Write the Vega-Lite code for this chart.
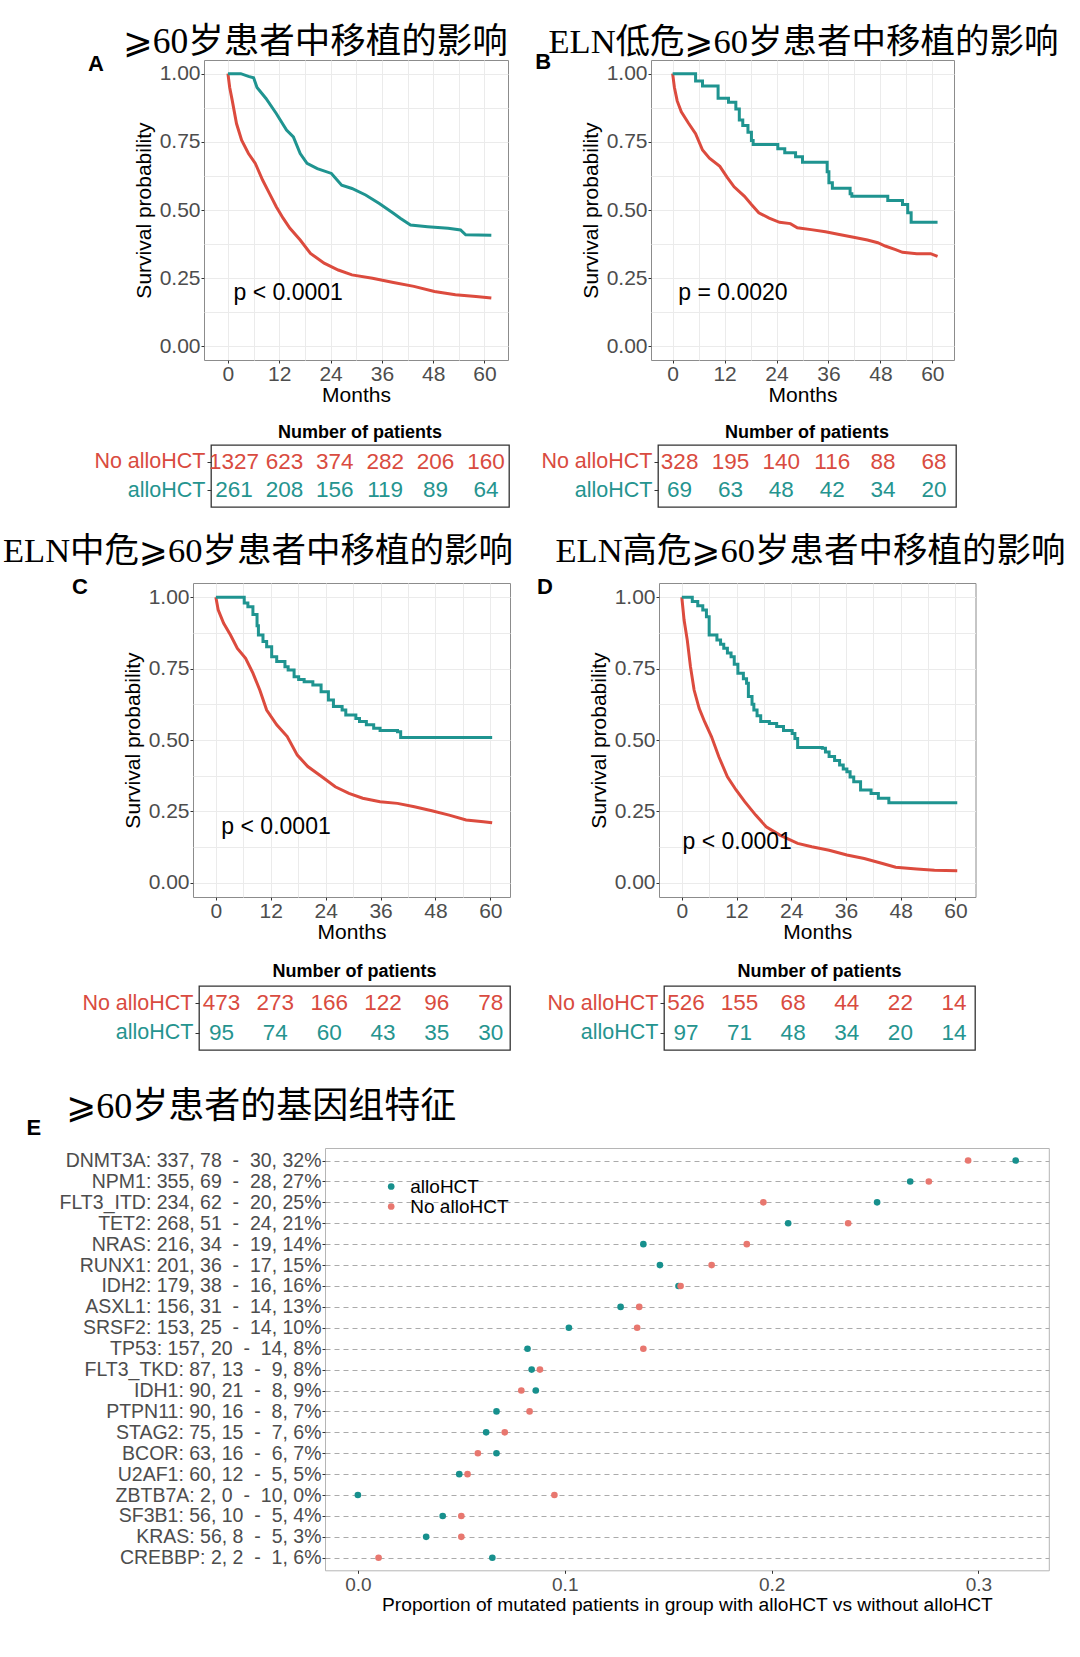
{
  "$schema": "https://vega.github.io/schema/vega-lite/v6.json",
  "background": "white",
  "padding": {"left": 2, "top": 24, "right": 0, "bottom": 0},
  "config": {
    "view": {"stroke": null},
    "font": "Liberation Sans",
    "axis": {"labelFont": "Liberation Sans", "titleFont": "Liberation Sans", "labelColor": "#4D4D4D", "titleColor": "#000000", "titleFontWeight": "normal", "tickColor": "#333333", "domain": false, "labelOverlap": false, "labelFlush": false, "gridColor": "#EBEBEB"},
    "title": {"font": "'Liberation Serif', 'DejaVu Sans', 'Noto Sans CJK SC'", "fontWeight": "normal", "color": "#000000", "anchor": "start", "frame": "group", "baseline": "middle"}
  },
  "datasets": {
    "A_no": [{"t":0,"s":1},{"t":0.4,"s":0.95},{"t":1.0,"s":0.902},{"t":2.0,"s":0.817},{"t":3.2,"s":0.756},{"t":4.8,"s":0.707},{"t":6.4,"s":0.671},{"t":8.1,"s":0.61},{"t":9.7,"s":0.561},{"t":11.3,"s":0.512},{"t":12.9,"s":0.47},{"t":14.5,"s":0.433},{"t":16.9,"s":0.39},{"t":19.3,"s":0.341},{"t":22.5,"s":0.305},{"t":25.8,"s":0.28},{"t":29.0,"s":0.262},{"t":33.8,"s":0.25},{"t":38.7,"s":0.234},{"t":43.5,"s":0.22},{"t":48.3,"s":0.201},{"t":53.2,"s":0.189},{"t":58.0,"s":0.183},{"t":61.6,"s":0.177}],
    "A_allo": [{"t":0,"s":1},{"t":3.0,"s":1.0},{"t":4.8,"s":0.99},{"t":6.0,"s":0.985},{"t":6.8,"s":0.949},{"t":8.9,"s":0.909},{"t":11.3,"s":0.854},{"t":13.7,"s":0.793},{"t":15.3,"s":0.768},{"t":16.9,"s":0.707},{"t":18.5,"s":0.671},{"t":20.9,"s":0.652},{"t":24.2,"s":0.634},{"t":26.6,"s":0.591},{"t":29.0,"s":0.579},{"t":32.2,"s":0.555},{"t":35.4,"s":0.524},{"t":38.7,"s":0.488},{"t":40.3,"s":0.47},{"t":42.7,"s":0.445},{"t":46.7,"s":0.439},{"t":51.5,"s":0.433},{"t":54.4,"s":0.427},{"t":55.6,"s":0.409},{"t":61.6,"s":0.407}],
    "B_no": [{"t":0,"s":1},{"t":0.4,"s":0.95},{"t":1.05,"s":0.9},{"t":2.0,"s":0.86},{"t":3.6,"s":0.82},{"t":5.3,"s":0.78},{"t":6.9,"s":0.72},{"t":8.5,"s":0.69},{"t":10.9,"s":0.66},{"t":12.6,"s":0.62},{"t":14.2,"s":0.585},{"t":16.6,"s":0.55},{"t":18.2,"s":0.52},{"t":19.9,"s":0.49},{"t":22.3,"s":0.47},{"t":24.7,"s":0.455},{"t":27.2,"s":0.45},{"t":28.8,"s":0.435},{"t":32.0,"s":0.428},{"t":35.3,"s":0.42},{"t":38.5,"s":0.41},{"t":41.8,"s":0.4},{"t":45.0,"s":0.39},{"t":47.4,"s":0.38},{"t":49.1,"s":0.368},{"t":51.5,"s":0.355},{"t":53.1,"s":0.345},{"t":56.4,"s":0.34},{"t":59.6,"s":0.34},{"t":61.2,"s":0.33}],
    "B_allo": [{"t":0,"s":1},{"t":5.3,"s":0.973},{"t":6.9,"s":0.955},{"t":10.5,"s":0.91},{"t":12.9,"s":0.895},{"t":14.6,"s":0.87},{"t":15.4,"s":0.83},{"t":16.2,"s":0.81},{"t":17.4,"s":0.785},{"t":18.2,"s":0.755},{"t":18.6,"s":0.74},{"t":24.3,"s":0.725},{"t":25.9,"s":0.71},{"t":28.4,"s":0.695},{"t":30.0,"s":0.675},{"t":35.7,"s":0.64},{"t":36.1,"s":0.6},{"t":36.9,"s":0.58},{"t":41.0,"s":0.56},{"t":41.4,"s":0.55},{"t":49.7,"s":0.535},{"t":53.1,"s":0.52},{"t":54.3,"s":0.49},{"t":55.1,"s":0.455},{"t":61.2,"s":0.455}],
    "C_no": [{"t":0,"s":1},{"t":0.5,"s":0.956},{"t":1.7,"s":0.909},{"t":3.2,"s":0.868},{"t":4.7,"s":0.821},{"t":6.5,"s":0.786},{"t":8.1,"s":0.734},{"t":9.6,"s":0.675},{"t":11.1,"s":0.605},{"t":13.3,"s":0.553},{"t":15.6,"s":0.512},{"t":17.8,"s":0.447},{"t":20.1,"s":0.407},{"t":23.1,"s":0.372},{"t":26.1,"s":0.336},{"t":29.1,"s":0.313},{"t":32.1,"s":0.296},{"t":35.9,"s":0.284},{"t":39.7,"s":0.278},{"t":43.4,"s":0.266},{"t":47.2,"s":0.252},{"t":51.0,"s":0.237},{"t":54.7,"s":0.22},{"t":58.5,"s":0.214},{"t":60.4,"s":0.21}],
    "C_allo": [{"t":0,"s":1},{"t":6.2,"s":0.98},{"t":7.0,"s":0.967},{"t":8.1,"s":0.94},{"t":9.0,"s":0.9},{"t":9.3,"s":0.868},{"t":10.3,"s":0.845},{"t":11.1,"s":0.827},{"t":12.2,"s":0.792},{"t":13.3,"s":0.775},{"t":15.1,"s":0.757},{"t":15.8,"s":0.745},{"t":17.1,"s":0.722},{"t":18.1,"s":0.712},{"t":19.3,"s":0.704},{"t":21.2,"s":0.693},{"t":23.0,"s":0.669},{"t":24.6,"s":0.64},{"t":25.7,"s":0.617},{"t":27.6,"s":0.605},{"t":28.4,"s":0.588},{"t":30.6,"s":0.575},{"t":31.4,"s":0.565},{"t":32.9,"s":0.553},{"t":34.5,"s":0.541},{"t":35.9,"s":0.533},{"t":39.7,"s":0.529},{"t":40.4,"s":0.509},{"t":60.4,"s":0.509}],
    "D_no": [{"t":0,"s":1},{"t":0.5,"s":0.92},{"t":1.2,"s":0.85},{"t":1.9,"s":0.757},{"t":2.7,"s":0.675},{"t":3.8,"s":0.611},{"t":5.0,"s":0.564},{"t":6.5,"s":0.512},{"t":8.1,"s":0.442},{"t":10.0,"s":0.371},{"t":11.9,"s":0.325},{"t":13.8,"s":0.284},{"t":16.2,"s":0.237},{"t":18.5,"s":0.196},{"t":21.5,"s":0.167},{"t":25.4,"s":0.138},{"t":28.5,"s":0.126},{"t":32.3,"s":0.114},{"t":36.2,"s":0.097},{"t":40.0,"s":0.085},{"t":43.8,"s":0.068},{"t":46.9,"s":0.054},{"t":51.5,"s":0.048},{"t":55.4,"s":0.044},{"t":60.4,"s":0.042}],
    "D_allo": [{"t":0,"s":1},{"t":2.3,"s":0.985},{"t":3.5,"s":0.97},{"t":4.6,"s":0.955},{"t":5.4,"s":0.932},{"t":6.0,"s":0.868},{"t":7.7,"s":0.85},{"t":8.5,"s":0.835},{"t":9.2,"s":0.821},{"t":10.0,"s":0.805},{"t":10.8,"s":0.792},{"t":11.5,"s":0.765},{"t":12.3,"s":0.734},{"t":13.5,"s":0.715},{"t":14.2,"s":0.699},{"t":14.6,"s":0.652},{"t":15.4,"s":0.625},{"t":15.8,"s":0.605},{"t":16.5,"s":0.585},{"t":17.3,"s":0.565},{"t":19.2,"s":0.558},{"t":20.8,"s":0.547},{"t":22.3,"s":0.533},{"t":24.2,"s":0.523},{"t":24.8,"s":0.505},{"t":25.4,"s":0.474},{"t":30.8,"s":0.471},{"t":31.5,"s":0.458},{"t":32.3,"s":0.442},{"t":33.5,"s":0.428},{"t":34.6,"s":0.412},{"t":35.4,"s":0.398},{"t":36.2,"s":0.389},{"t":36.9,"s":0.37},{"t":37.7,"s":0.354},{"t":39.2,"s":0.325},{"t":41.5,"s":0.313},{"t":43.1,"s":0.296},{"t":45.4,"s":0.28},{"t":60.4,"s":0.28}],
    "risk": [
      {"p":"A","g":"No alloHCT","t":0,"n":1327},{"p":"A","g":"No alloHCT","t":12,"n":623},{"p":"A","g":"No alloHCT","t":24,"n":374},{"p":"A","g":"No alloHCT","t":36,"n":282},{"p":"A","g":"No alloHCT","t":48,"n":206},{"p":"A","g":"No alloHCT","t":60,"n":160},
      {"p":"A","g":"alloHCT","t":0,"n":261},{"p":"A","g":"alloHCT","t":12,"n":208},{"p":"A","g":"alloHCT","t":24,"n":156},{"p":"A","g":"alloHCT","t":36,"n":119},{"p":"A","g":"alloHCT","t":48,"n":89},{"p":"A","g":"alloHCT","t":60,"n":64},
      {"p":"B","g":"No alloHCT","t":0,"n":328},{"p":"B","g":"No alloHCT","t":12,"n":195},{"p":"B","g":"No alloHCT","t":24,"n":140},{"p":"B","g":"No alloHCT","t":36,"n":116},{"p":"B","g":"No alloHCT","t":48,"n":88},{"p":"B","g":"No alloHCT","t":60,"n":68},
      {"p":"B","g":"alloHCT","t":0,"n":69},{"p":"B","g":"alloHCT","t":12,"n":63},{"p":"B","g":"alloHCT","t":24,"n":48},{"p":"B","g":"alloHCT","t":36,"n":42},{"p":"B","g":"alloHCT","t":48,"n":34},{"p":"B","g":"alloHCT","t":60,"n":20},
      {"p":"C","g":"No alloHCT","t":0,"n":473},{"p":"C","g":"No alloHCT","t":12,"n":273},{"p":"C","g":"No alloHCT","t":24,"n":166},{"p":"C","g":"No alloHCT","t":36,"n":122},{"p":"C","g":"No alloHCT","t":48,"n":96},{"p":"C","g":"No alloHCT","t":60,"n":78},
      {"p":"C","g":"alloHCT","t":0,"n":95},{"p":"C","g":"alloHCT","t":12,"n":74},{"p":"C","g":"alloHCT","t":24,"n":60},{"p":"C","g":"alloHCT","t":36,"n":43},{"p":"C","g":"alloHCT","t":48,"n":35},{"p":"C","g":"alloHCT","t":60,"n":30},
      {"p":"D","g":"No alloHCT","t":0,"n":526},{"p":"D","g":"No alloHCT","t":12,"n":155},{"p":"D","g":"No alloHCT","t":24,"n":68},{"p":"D","g":"No alloHCT","t":36,"n":44},{"p":"D","g":"No alloHCT","t":48,"n":22},{"p":"D","g":"No alloHCT","t":60,"n":14},
      {"p":"D","g":"alloHCT","t":0,"n":97},{"p":"D","g":"alloHCT","t":12,"n":71},{"p":"D","g":"alloHCT","t":24,"n":48},{"p":"D","g":"alloHCT","t":36,"n":34},{"p":"D","g":"alloHCT","t":48,"n":20},{"p":"D","g":"alloHCT","t":60,"n":14}
    ],
    "mut": [
      {"gene":"DNMT3A: 337, 78\u00a0\u00a0-\u00a0\u00a030, 32%","group":"alloHCT","prop":0.318},{"gene":"DNMT3A: 337, 78\u00a0\u00a0-\u00a0\u00a030, 32%","group":"No alloHCT","prop":0.295},
      {"gene":"NPM1: 355, 69\u00a0\u00a0-\u00a0\u00a028, 27%","group":"alloHCT","prop":0.267},{"gene":"NPM1: 355, 69\u00a0\u00a0-\u00a0\u00a028, 27%","group":"No alloHCT","prop":0.276},
      {"gene":"FLT3_ITD: 234, 62\u00a0\u00a0-\u00a0\u00a020, 25%","group":"alloHCT","prop":0.251},{"gene":"FLT3_ITD: 234, 62\u00a0\u00a0-\u00a0\u00a020, 25%","group":"No alloHCT","prop":0.196},
      {"gene":"TET2: 268, 51\u00a0\u00a0-\u00a0\u00a024, 21%","group":"alloHCT","prop":0.208},{"gene":"TET2: 268, 51\u00a0\u00a0-\u00a0\u00a024, 21%","group":"No alloHCT","prop":0.237},
      {"gene":"NRAS: 216, 34\u00a0\u00a0-\u00a0\u00a019, 14%","group":"alloHCT","prop":0.138},{"gene":"NRAS: 216, 34\u00a0\u00a0-\u00a0\u00a019, 14%","group":"No alloHCT","prop":0.188},
      {"gene":"RUNX1: 201, 36\u00a0\u00a0-\u00a0\u00a017, 15%","group":"alloHCT","prop":0.146},{"gene":"RUNX1: 201, 36\u00a0\u00a0-\u00a0\u00a017, 15%","group":"No alloHCT","prop":0.171},
      {"gene":"IDH2: 179, 38\u00a0\u00a0-\u00a0\u00a016, 16%","group":"alloHCT","prop":0.155},{"gene":"IDH2: 179, 38\u00a0\u00a0-\u00a0\u00a016, 16%","group":"No alloHCT","prop":0.156},
      {"gene":"ASXL1: 156, 31\u00a0\u00a0-\u00a0\u00a014, 13%","group":"alloHCT","prop":0.127},{"gene":"ASXL1: 156, 31\u00a0\u00a0-\u00a0\u00a014, 13%","group":"No alloHCT","prop":0.136},
      {"gene":"SRSF2: 153, 25\u00a0\u00a0-\u00a0\u00a014, 10%","group":"alloHCT","prop":0.102},{"gene":"SRSF2: 153, 25\u00a0\u00a0-\u00a0\u00a014, 10%","group":"No alloHCT","prop":0.135},
      {"gene":"TP53: 157, 20\u00a0\u00a0-\u00a0\u00a014, 8%","group":"alloHCT","prop":0.082},{"gene":"TP53: 157, 20\u00a0\u00a0-\u00a0\u00a014, 8%","group":"No alloHCT","prop":0.138},
      {"gene":"FLT3_TKD: 87, 13\u00a0\u00a0-\u00a0\u00a09, 8%","group":"alloHCT","prop":0.084},{"gene":"FLT3_TKD: 87, 13\u00a0\u00a0-\u00a0\u00a09, 8%","group":"No alloHCT","prop":0.088},
      {"gene":"IDH1: 90, 21\u00a0\u00a0-\u00a0\u00a08, 9%","group":"alloHCT","prop":0.086},{"gene":"IDH1: 90, 21\u00a0\u00a0-\u00a0\u00a08, 9%","group":"No alloHCT","prop":0.079},
      {"gene":"PTPN11: 90, 16\u00a0\u00a0-\u00a0\u00a08, 7%","group":"alloHCT","prop":0.067},{"gene":"PTPN11: 90, 16\u00a0\u00a0-\u00a0\u00a08, 7%","group":"No alloHCT","prop":0.083},
      {"gene":"STAG2: 75, 15\u00a0\u00a0-\u00a0\u00a07, 6%","group":"alloHCT","prop":0.062},{"gene":"STAG2: 75, 15\u00a0\u00a0-\u00a0\u00a07, 6%","group":"No alloHCT","prop":0.071},
      {"gene":"BCOR: 63, 16\u00a0\u00a0-\u00a0\u00a06, 7%","group":"alloHCT","prop":0.067},{"gene":"BCOR: 63, 16\u00a0\u00a0-\u00a0\u00a06, 7%","group":"No alloHCT","prop":0.058},
      {"gene":"U2AF1: 60, 12\u00a0\u00a0-\u00a0\u00a05, 5%","group":"alloHCT","prop":0.049},{"gene":"U2AF1: 60, 12\u00a0\u00a0-\u00a0\u00a05, 5%","group":"No alloHCT","prop":0.053},
      {"gene":"ZBTB7A: 2, 0\u00a0\u00a0-\u00a0\u00a010, 0%","group":"alloHCT","prop":0.0},{"gene":"ZBTB7A: 2, 0\u00a0\u00a0-\u00a0\u00a010, 0%","group":"No alloHCT","prop":0.095},
      {"gene":"SF3B1: 56, 10\u00a0\u00a0-\u00a0\u00a05, 4%","group":"alloHCT","prop":0.041},{"gene":"SF3B1: 56, 10\u00a0\u00a0-\u00a0\u00a05, 4%","group":"No alloHCT","prop":0.05},
      {"gene":"KRAS: 56, 8\u00a0\u00a0-\u00a0\u00a05, 3%","group":"alloHCT","prop":0.033},{"gene":"KRAS: 56, 8\u00a0\u00a0-\u00a0\u00a05, 3%","group":"No alloHCT","prop":0.05},
      {"gene":"CREBBP: 2, 2\u00a0\u00a0-\u00a0\u00a01, 6%","group":"alloHCT","prop":0.065},{"gene":"CREBBP: 2, 2\u00a0\u00a0-\u00a0\u00a01, 6%","group":"No alloHCT","prop":0.01}
    ]
  },
  "bounds": "flush",
  "spacing": 0,
  "resolve": {"scale": {"color": "independent"}, "legend": {"color": "independent"}},
  "vconcat": [
    {
      "bounds": "flush",
      "spacing": 0,
      "hconcat": [
        {"width": 11, "height": 1, "data": {"values": []}, "mark": "point"},
        {
          "width": 304, "height": 300,
          "view": {"stroke": "#8C8C8C"},
          "title": {"text": "⩾60岁患者中移植的影响", "dx": -81, "offset": -7.3, "fontSize": 35.5},
          "encoding": {
            "x": {"field": "t", "type": "quantitative", "scale": {"domain": [-5.6, 65.5], "nice": false, "zero": false},
              "axis": {"values": [0,6,12,18,24,30,36,42,48,54,60], "labelExpr": "datum.value % 12 == 0 ? datum.label : ''", "tickOpacity": {"condition": {"test": "datum.value % 12 != 0", "value": 0}, "value": 1}, "title": "Months", "grid": true, "tickSize": 3, "labelPadding": 0, "labelFontSize": 21, "titleFontSize": 21, "titlePadding": 0}},
            "y": {"field": "s", "type": "quantitative", "scale": {"domain": [-0.05, 1.05], "nice": false, "zero": false},
              "axis": {"values": [0,0.125,0.25,0.375,0.5,0.625,0.75,0.875,1], "format": ".2f", "labelExpr": "datum.value*4 == round(datum.value*4) ? datum.label : ''", "tickOpacity": {"condition": {"test": "datum.value*4 != round(datum.value*4)", "value": 0}, "value": 1}, "title": "Survival probability", "grid": true, "tickSize": 3, "labelPadding": 1, "labelFontSize": 21, "titleFontSize": 21, "titlePadding": 5}}
          },
          "layer": [
            {"data": {"name": "A_no"}, "mark": {"type": "line", "color": "#DC4B3E", "strokeWidth": 3}},
            {"data": {"name": "A_allo"}, "mark": {"type": "line", "color": "#1F9490", "strokeWidth": 3}},
            {"data": {"values": [{"t": -30.9, "s": 1.034, "lab": "A"}]}, "mark": {"type": "text", "fontSize": 22, "fontWeight": "bold", "color": "#000000"}, "encoding": {"text": {"field": "lab"}}},
            {"data": {"values": [{"t": 1.3, "s": 0.196, "lab": "p < 0.0001"}]}, "mark": {"type": "text", "align": "left", "fontSize": 23, "color": "#000000"}, "encoding": {"text": {"field": "lab"}}}
          ]
        },
        {"width": 143, "height": 1, "data": {"values": []}, "mark": "point"},
        {
          "width": 303, "height": 300,
          "view": {"stroke": "#8C8C8C"},
          "title": {"text": "ELN低危⩾60岁患者中移植的影响", "dx": -102.5, "offset": -9.5, "fontSize": 34.5},
          "encoding": {
            "x": {"field": "t", "type": "quantitative", "scale": {"domain": [-5.0, 65.0], "nice": false, "zero": false},
              "axis": {"values": [0,6,12,18,24,30,36,42,48,54,60], "labelExpr": "datum.value % 12 == 0 ? datum.label : ''", "tickOpacity": {"condition": {"test": "datum.value % 12 != 0", "value": 0}, "value": 1}, "title": "Months", "grid": true, "tickSize": 3, "labelPadding": 0, "labelFontSize": 21, "titleFontSize": 21, "titlePadding": 0}},
            "y": {"field": "s", "type": "quantitative", "scale": {"domain": [-0.05, 1.05], "nice": false, "zero": false},
              "axis": {"values": [0,0.125,0.25,0.375,0.5,0.625,0.75,0.875,1], "format": ".2f", "labelExpr": "datum.value*4 == round(datum.value*4) ? datum.label : ''", "tickOpacity": {"condition": {"test": "datum.value*4 != round(datum.value*4)", "value": 0}, "value": 1}, "title": "Survival probability", "grid": true, "tickSize": 3, "labelPadding": 1, "labelFontSize": 21, "titleFontSize": 21, "titlePadding": 5}}
          },
          "layer": [
            {"data": {"name": "B_no"}, "mark": {"type": "line", "color": "#DC4B3E", "strokeWidth": 3}},
            {"data": {"name": "B_allo"}, "mark": {"type": "line", "interpolate": "step-after", "color": "#1F9490", "strokeWidth": 3}},
            {"data": {"values": [{"t": -29.9, "s": 1.042, "lab": "B"}]}, "mark": {"type": "text", "fontSize": 22, "fontWeight": "bold", "color": "#000000"}, "encoding": {"text": {"field": "lab"}}},
            {"data": {"values": [{"t": 1.3, "s": 0.195, "lab": "p = 0.0020"}]}, "mark": {"type": "text", "align": "left", "fontSize": 23, "color": "#000000"}, "encoding": {"text": {"field": "lab"}}}
          ]
        }
      ]
    },
    {"width": 1, "height": 385, "data": {"values": []}, "mark": "point"},
    {
      "bounds": "flush",
      "spacing": 0,
      "hconcat": [
        {"width": 17.4, "height": 1, "data": {"values": []}, "mark": "point"},
        {
          "width": 298, "height": 62,
          "view": {"stroke": "#333333", "strokeWidth": 1.3},
          "title": {"text": "Number of patients", "anchor": "middle", "offset": 3.5, "font": "Liberation Sans", "fontWeight": "bold", "fontSize": 18},
          "data": {"name": "risk"},
          "transform": [{"filter": "datum.p == 'A'"}],
          "mark": {"type": "text", "fontSize": 22.5},
          "encoding": {
            "x": {"field": "t", "type": "quantitative", "scale": {"domain": [-5.5, 65.5], "nice": false, "zero": false}, "axis": null},
            "y": {"field": "g", "type": "nominal", "scale": {"type": "point", "domain": ["No alloHCT", "alloHCT"], "padding": 0.6}, "axis": {"title": null, "grid": false, "tickSize": 4, "labelPadding": 2, "labelFontSize": 21.5, "labelColor": {"condition": {"test": "datum.value == 'No alloHCT'", "value": "#D94B40"}, "value": "#25948F"}}},
            "text": {"field": "n", "type": "nominal"},
            "color": {"condition": {"test": "datum.g == 'No alloHCT'", "value": "#D94B40"}, "value": "#25948F"}
          }
        },
        {"width": 148.2, "height": 1, "data": {"values": []}, "mark": "point"},
        {
          "width": 298, "height": 62,
          "view": {"stroke": "#333333", "strokeWidth": 1.3},
          "title": {"text": "Number of patients", "anchor": "middle", "offset": 3.5, "font": "Liberation Sans", "fontWeight": "bold", "fontSize": 18},
          "data": {"name": "risk"},
          "transform": [{"filter": "datum.p == 'B'"}],
          "mark": {"type": "text", "fontSize": 22.5},
          "encoding": {
            "x": {"field": "t", "type": "quantitative", "scale": {"domain": [-5.1, 65.2], "nice": false, "zero": false}, "axis": null},
            "y": {"field": "g", "type": "nominal", "scale": {"type": "point", "domain": ["No alloHCT", "alloHCT"], "padding": 0.6}, "axis": {"title": null, "grid": false, "tickSize": 4, "labelPadding": 2, "labelFontSize": 21.5, "labelColor": {"condition": {"test": "datum.value == 'No alloHCT'", "value": "#D94B40"}, "value": "#25948F"}}},
            "text": {"field": "n", "type": "nominal"},
            "color": {"condition": {"test": "datum.g == 'No alloHCT'", "value": "#D94B40"}, "value": "#25948F"}
          }
        }
      ]
    },
    {"width": 1, "height": 138, "data": {"values": []}, "mark": "point"},
    {
      "bounds": "flush",
      "spacing": 0,
      "hconcat": [
        {
          "width": 317, "height": 314,
          "view": {"stroke": "#8C8C8C"},
          "title": {"text": "ELN中危⩾60岁患者中移植的影响", "dx": -190, "offset": 6.6, "fontSize": 34.5},
          "encoding": {
            "x": {"field": "t", "type": "quantitative", "scale": {"domain": [-5.0, 64.3], "nice": false, "zero": false},
              "axis": {"values": [0,6,12,18,24,30,36,42,48,54,60], "labelExpr": "datum.value % 12 == 0 ? datum.label : ''", "tickOpacity": {"condition": {"test": "datum.value % 12 != 0", "value": 0}, "value": 1}, "title": "Months", "grid": true, "tickSize": 3, "labelPadding": 0, "labelFontSize": 21, "titleFontSize": 21, "titlePadding": 0}},
            "y": {"field": "s", "type": "quantitative", "scale": {"domain": [-0.05, 1.05], "nice": false, "zero": false},
              "axis": {"values": [0,0.125,0.25,0.375,0.5,0.625,0.75,0.875,1], "format": ".2f", "labelExpr": "datum.value*4 == round(datum.value*4) ? datum.label : ''", "tickOpacity": {"condition": {"test": "datum.value*4 != round(datum.value*4)", "value": 0}, "value": 1}, "title": "Survival probability", "grid": true, "tickSize": 3, "labelPadding": 1, "labelFontSize": 21, "titleFontSize": 21, "titlePadding": 5}}
          },
          "layer": [
            {"data": {"name": "C_no"}, "mark": {"type": "line", "color": "#DC4B3E", "strokeWidth": 3}},
            {"data": {"name": "C_allo"}, "mark": {"type": "line", "interpolate": "step-after", "color": "#1F9490", "strokeWidth": 3}},
            {"data": {"values": [{"t": -29.7, "s": 1.036, "lab": "C"}]}, "mark": {"type": "text", "fontSize": 22, "fontWeight": "bold", "color": "#000000"}, "encoding": {"text": {"field": "lab"}}},
            {"data": {"values": [{"t": 1.2, "s": 0.196, "lab": "p < 0.0001"}]}, "mark": {"type": "text", "align": "left", "fontSize": 23, "color": "#000000"}, "encoding": {"text": {"field": "lab"}}}
          ]
        },
        {"width": 149, "height": 1, "data": {"values": []}, "mark": "point"},
        {
          "width": 316.5, "height": 314,
          "view": {"stroke": "#8C8C8C"},
          "title": {"text": "ELN高危⩾60岁患者中移植的影响", "dx": -103.5, "offset": 6.6, "fontSize": 34.5},
          "encoding": {
            "x": {"field": "t", "type": "quantitative", "scale": {"domain": [-5.0, 64.4], "nice": false, "zero": false},
              "axis": {"values": [0,6,12,18,24,30,36,42,48,54,60], "labelExpr": "datum.value % 12 == 0 ? datum.label : ''", "tickOpacity": {"condition": {"test": "datum.value % 12 != 0", "value": 0}, "value": 1}, "title": "Months", "grid": true, "tickSize": 3, "labelPadding": 0, "labelFontSize": 21, "titleFontSize": 21, "titlePadding": 0}},
            "y": {"field": "s", "type": "quantitative", "scale": {"domain": [-0.05, 1.05], "nice": false, "zero": false},
              "axis": {"values": [0,0.125,0.25,0.375,0.5,0.625,0.75,0.875,1], "format": ".2f", "labelExpr": "datum.value*4 == round(datum.value*4) ? datum.label : ''", "tickOpacity": {"condition": {"test": "datum.value*4 != round(datum.value*4)", "value": 0}, "value": 1}, "title": "Survival probability", "grid": true, "tickSize": 3, "labelPadding": 1, "labelFontSize": 21, "titleFontSize": 21, "titlePadding": 5}}
          },
          "layer": [
            {"data": {"name": "D_no"}, "mark": {"type": "line", "color": "#DC4B3E", "strokeWidth": 3}},
            {"data": {"name": "D_allo"}, "mark": {"type": "line", "interpolate": "step-after", "color": "#1F9490", "strokeWidth": 3}},
            {"data": {"values": [{"t": -30.0, "s": 1.036, "lab": "D"}]}, "mark": {"type": "text", "fontSize": 22, "fontWeight": "bold", "color": "#000000"}, "encoding": {"text": {"field": "lab"}}},
            {"data": {"values": [{"t": 0.15, "s": 0.144, "lab": "p < 0.0001"}]}, "mark": {"type": "text", "align": "left", "fontSize": 23, "color": "#000000"}, "encoding": {"text": {"field": "lab"}}}
          ]
        }
      ]
    },
    {"width": 1, "height": 403, "data": {"values": []}, "mark": "point"},
    {
      "bounds": "flush",
      "spacing": 0,
      "hconcat": [
        {"width": 6, "height": 1, "data": {"values": []}, "mark": "point"},
        {
          "width": 311, "height": 64,
          "view": {"stroke": "#333333", "strokeWidth": 1.3},
          "title": {"text": "Number of patients", "anchor": "middle", "offset": 5.5, "font": "Liberation Sans", "fontWeight": "bold", "fontSize": 18},
          "data": {"name": "risk"},
          "transform": [{"filter": "datum.p == 'C'"}],
          "mark": {"type": "text", "fontSize": 22.5},
          "encoding": {
            "x": {"field": "t", "type": "quantitative", "scale": {"domain": [-5.0, 64.3], "nice": false, "zero": false}, "axis": null},
            "y": {"field": "g", "type": "nominal", "scale": {"type": "point", "domain": ["No alloHCT", "alloHCT"], "padding": 0.6}, "axis": {"title": null, "grid": false, "tickSize": 4, "labelPadding": 2, "labelFontSize": 21.5, "labelColor": {"condition": {"test": "datum.value == 'No alloHCT'", "value": "#D94B40"}, "value": "#25948F"}}},
            "text": {"field": "n", "type": "nominal"},
            "color": {"condition": {"test": "datum.g == 'No alloHCT'", "value": "#D94B40"}, "value": "#25948F"}
          }
        },
        {"width": 154, "height": 1, "data": {"values": []}, "mark": "point"},
        {
          "width": 311, "height": 64,
          "view": {"stroke": "#333333", "strokeWidth": 1.3},
          "title": {"text": "Number of patients", "anchor": "middle", "offset": 5.5, "font": "Liberation Sans", "fontWeight": "bold", "fontSize": 18},
          "data": {"name": "risk"},
          "transform": [{"filter": "datum.p == 'D'"}],
          "mark": {"type": "text", "fontSize": 22.5},
          "encoding": {
            "x": {"field": "t", "type": "quantitative", "scale": {"domain": [-4.9, 64.7], "nice": false, "zero": false}, "axis": null},
            "y": {"field": "g", "type": "nominal", "scale": {"type": "point", "domain": ["No alloHCT", "alloHCT"], "padding": 0.6}, "axis": {"title": null, "grid": false, "tickSize": 4, "labelPadding": 2, "labelFontSize": 21.5, "labelColor": {"condition": {"test": "datum.value == 'No alloHCT'", "value": "#D94B40"}, "value": "#25948F"}}},
            "text": {"field": "n", "type": "nominal"},
            "color": {"condition": {"test": "datum.g == 'No alloHCT'", "value": "#D94B40"}, "value": "#25948F"}
          }
        }
      ]
    },
    {"width": 1, "height": 161.7, "data": {"values": []}, "mark": "point"},
    {
      "bounds": "flush",
      "spacing": 0,
      "resolve": {"scale": {"color": "independent"}, "legend": {"color": "independent"}},
      "hconcat": [
        {"width": 131.7, "height": 1, "data": {"values": []}, "mark": "point"},
        {
          "width": 723.8, "height": 422.3,
          "view": {"stroke": "#B5B5B5"},
          "title": {"text": "⩾60岁患者的基因组特征", "dx": -259, "offset": -9.8, "fontSize": 36},
          "data": {"name": "mut"},
          "mark": {"type": "point", "filled": true, "size": 44, "opacity": 1},
          "encoding": {
            "y": {"field": "gene", "type": "nominal", "sort": null, "scale": {"type": "point", "padding": 0.6},
              "axis": {"title": "E", "titleAngle": 0, "titleX": -291.7, "titleY": -20.7, "titleAlign": "center", "titleBaseline": "middle", "titleFontSize": 22, "titleFontWeight": "bold", "labelFontSize": 19.5, "labelLimit": 500, "grid": true, "gridDash": [5, 4], "gridColor": "#ABABAB", "gridWidth": 1, "tickSize": 3, "labelPadding": 1}},
            "x": {"field": "prop", "type": "quantitative", "scale": {"domain": [-0.0159, 0.334], "nice": false, "zero": false},
              "axis": {"values": [0, 0.1, 0.2, 0.3], "format": ".1f", "grid": false, "tickSize": 3, "labelPadding": 2, "labelFontSize": 19, "title": "Proportion of mutated patients in group with alloHCT vs without alloHCT", "titleFontSize": 19.2, "titlePadding": 1}},
            "color": {"field": "group", "type": "nominal", "scale": {"domain": ["alloHCT", "No alloHCT"], "range": ["#17908D", "#E8776F"]},
              "legend": {"orient": "none", "legendX": 56.7, "legendY": 29, "title": null, "labelFontSize": 19, "labelColor": "#000000", "symbolSize": 45, "symbolType": "circle", "labelOffset": 9.6, "padding": 0, "rowPadding": -1}}
          }
        }
      ]
    }
  ]
}
